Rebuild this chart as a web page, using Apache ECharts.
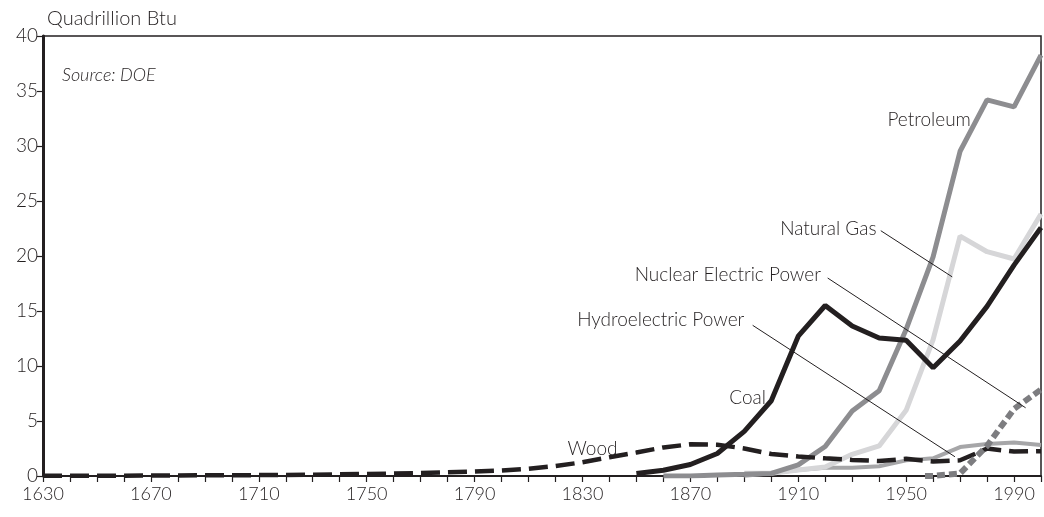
<!DOCTYPE html>
<html>
<head>
<meta charset="utf-8">
<script src="https://cdn.jsdelivr.net/npm/echarts@6.0.0/dist/echarts.min.js"></script>
<style>
  html, body { margin: 0; padding: 0; background: #fff; }
  #chart { width: 1044px; height: 517px; }
</style>
</head>
<body>
<div id="chart"></div>
<script>
// decade points
const woodYears = [1630, 1640, 1650, 1660, 1670, 1680, 1690, 1700, 1710, 1720, 1730, 1740, 1750, 1760,
  1770, 1780, 1790, 1800, 1810, 1820, 1830, 1840, 1850, 1860, 1870, 1880, 1890, 1900, 1910, 1920,
  1930, 1940, 1950, 1960, 1970, 1980, 1990, 2000];
const woodValues = [0.02, 0.02, 0.03, 0.03, 0.04, 0.05, 0.06, 0.07, 0.08, 0.10, 0.12, 0.15, 0.18, 0.22,
  0.27, 0.33, 0.40, 0.50, 0.66, 0.90, 1.25, 1.7, 2.14, 2.6, 2.88, 2.85, 2.5, 2.0, 1.77, 1.61,
  1.46, 1.36, 1.56, 1.32, 1.43, 2.49, 2.22, 2.26];

const modernYears = [1850, 1860, 1870, 1880, 1890, 1900, 1910, 1920, 1930, 1940, 1950, 1960, 1970, 1980, 1990, 2000];
const coalValues = [0.22, 0.52, 1.05, 2.05, 4.06, 6.84, 12.71, 15.50, 13.64, 12.54, 12.35, 9.84, 12.27, 15.42, 19.17, 22.58];
const petroleumValues = [null, 0.0, 0.01, 0.10, 0.16, 0.23, 1.01, 2.68, 5.90, 7.76, 13.32, 19.92, 29.52, 34.20, 33.55, 38.26];
const gasValues = [null, null, null, null, 0.26, 0.25, 0.54, 0.81, 1.97, 2.73, 5.97, 12.39, 21.80, 20.39, 19.73, 23.82];
const hydroValues = [null, null, null, null, 0.02, 0.25, 0.54, 0.74, 0.75, 0.88, 1.42, 1.61, 2.63, 2.90, 3.05, 2.81];

const nuclearYears = [1957, 1960, 1970, 1980, 1990, 2000];
const nuclearValues = [0.0, 0.01, 0.24, 2.74, 6.10, 7.86];

// callout texts: anchor (right end of text) and optional leader, in data units
const callouts = [
  { text: 'Petroleum', at: [1974, 32.4] },
  { text: 'Natural Gas', at: [1939, 22.5], from: [1940.6, 22.3], to: [1967.1, 18.1] },
  { text: 'Nuclear Electric Power', at: [1918.4, 18.3], from: [1920.9, 18.0], to: [1994.3, 6.2] },
  { text: 'Hydroelectric Power', at: [1890, 14.2], from: [1893.1, 13.7], to: [1968.1, 1.75] },
  { text: 'Coal', at: [1898, 7.06] },
  { text: 'Wood', at: [1843, 2.5] }
];

function pairs(years, values) {
  const out = [];
  years.forEach(function (y, i) {
    if (values[i] !== null) out.push([y, values[i]]);
  });
  return out;
}

const ink = '#231f20';
const font = 'Lato, "Open Sans", sans-serif';

const chart = echarts.init(document.getElementById('chart'));

chart.setOption({
  animation: false,
  textStyle: { fontFamily: font },
  grid: {
    left: 43, right: 2, top: 36, bottom: 41,
    show: true, borderColor: ink, borderWidth: 1.5, backgroundColor: 'transparent'
  },
  title: [{
    text: 'Quadrillion Btu', left: 42, top: 4,
    textStyle: { fontFamily: font, fontSize: 20, fontWeight: 300, color: ink }
  }, {
    text: 'Source: DOE', left: 57, top: 61,
    textStyle: { fontFamily: font, fontSize: 18, fontWeight: 300, fontStyle: 'italic', color: ink }
  }],
  xAxis: {
    type: 'value', min: 1630, max: 2000, interval: 10,
    axisLine: { lineStyle: { color: ink, width: 2 } },
    axisTick: { length: 6, lineStyle: { color: ink, width: 1.2 } },
    splitLine: { show: false },
    axisLabel: {
      color: ink, fontSize: 18, fontWeight: 300, margin: 9,
      formatter: function (v) { return (v - 1630) % 40 === 0 ? String(v) : ''; }
    }
  },
  yAxis: {
    type: 'value', min: 0, max: 40, interval: 5,
    axisLine: { show: true, lineStyle: { color: ink, width: 3 } },
    axisTick: { show: true, length: 6, lineStyle: { color: ink, width: 1.2 } },
    splitLine: { show: false },
    axisLabel: { color: ink, fontSize: 19, fontWeight: 300, margin: 5 }
  },
  series: [
    {
      name: 'Wood', type: 'line', data: pairs(woodYears, woodValues), symbol: 'none',
      lineStyle: { color: ink, width: 4.5, type: [19, 8] }, z: 3
    },
    {
      name: 'Hydroelectric Power', type: 'line', data: pairs(modernYears, hydroValues), symbol: 'none',
      lineStyle: { color: '#a6a6a8', width: 4 }, z: 2
    },
    {
      name: 'Natural Gas', type: 'line', data: pairs(modernYears, gasValues), symbol: 'none',
      lineStyle: { color: '#d6d6d8', width: 5 }, z: 2
    },
    {
      name: 'Petroleum', type: 'line', data: pairs(modernYears, petroleumValues), symbol: 'none',
      lineStyle: { color: '#8d8d90', width: 5 }, z: 2
    },
    {
      name: 'Nuclear Electric Power', type: 'line', data: pairs(nuclearYears, nuclearValues), symbol: 'none',
      lineStyle: { color: '#7d7d80', width: 6, type: [8, 4] }, z: 4
    },
    {
      name: 'Coal', type: 'line', data: pairs(modernYears, coalValues), symbol: 'none',
      lineStyle: { color: ink, width: 5 }, z: 5
    }
  ]
});

// place the callouts through the chart's own scales
const graphics = [];
callouts.forEach(function (c) {
  const p = chart.convertToPixel({ gridIndex: 0 }, c.at);
  graphics.push({
    type: 'text', x: p[0], y: p[1], z: 10,
    style: { text: c.text, fill: ink, font: '300 19px ' + font, align: 'right', verticalAlign: 'middle' }
  });
  if (c.from) {
    const a = chart.convertToPixel({ gridIndex: 0 }, c.from);
    const b = chart.convertToPixel({ gridIndex: 0 }, c.to);
    graphics.push({
      type: 'line', z: 10,
      shape: { x1: a[0], y1: a[1], x2: b[0], y2: b[1] },
      style: { stroke: ink, lineWidth: 1 }
    });
  }
});
chart.setOption({ graphic: graphics });
</script>
</body>
</html>
